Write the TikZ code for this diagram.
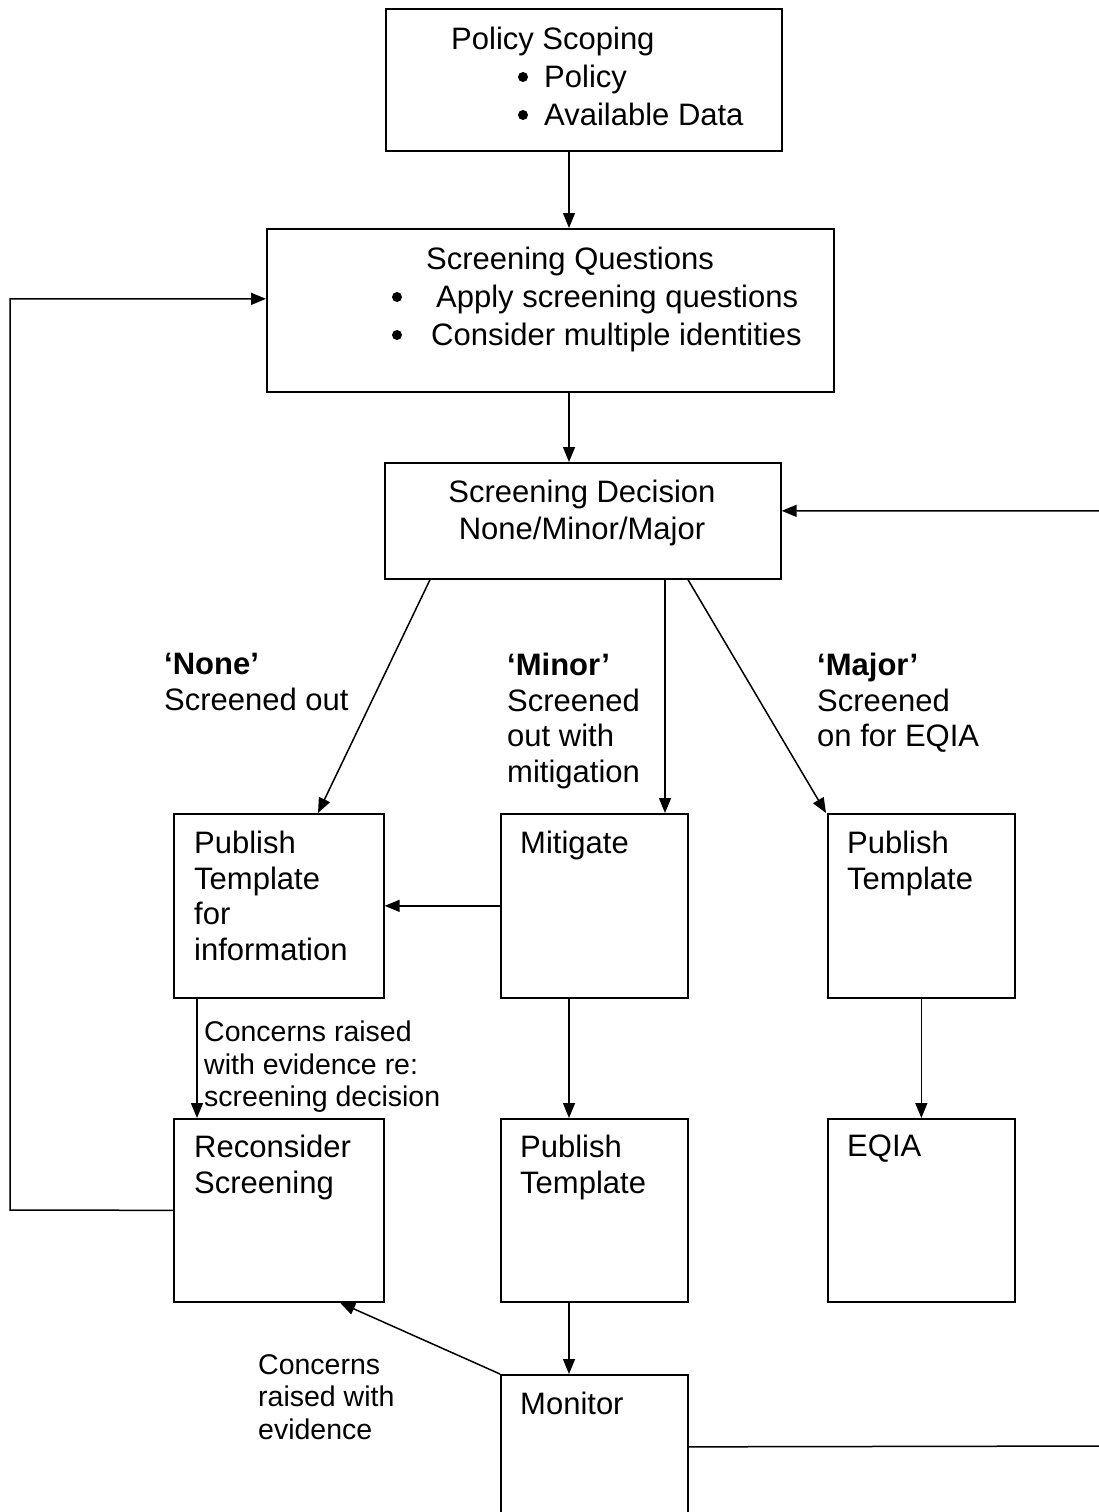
\documentclass[tikz,border=0pt]{standalone}
\usepackage{fontspec}
\setmainfont{Liberation Sans}
\usetikzlibrary{arrows.meta,calc}
\begin{document}
\begin{tikzpicture}[x=1pt,y=-1pt,
  box/.style={draw,line width=1.7pt,anchor=north west,inner sep=0pt},
  txt/.style={anchor=north west,inner sep=0pt,align=left,font=\fontsize{31}{35.5}\selectfont},
  ttl/.style={anchor=north,inner sep=0pt,align=center,font=\fontsize{31}{37}\selectfont},
  lst/.style={anchor=north west,inner sep=0pt,align=left,font=\fontsize{31}{38}\selectfont},
  small/.style={anchor=north west,inner sep=0pt,align=left,font=\fontsize{28.5}{32.5}\selectfont},
  bul/.style={fill=black},
  arr/.style={line width=1.5pt,-{Triangle[length=15pt,width=12pt]}},
  ln/.style={line width=1.5pt}]
\useasboundingbox (0,0) rectangle (1099,1512);
% boxes
\node[box,minimum width=396pt,minimum height=142pt] (PS) at (385,8) {};
\node[box,minimum width=567pt,minimum height=163pt] (SQ) at (266,228) {};
\node[box,minimum width=396pt,minimum height=116pt] (SD) at (384,462) {};
\node[box,minimum width=210pt,minimum height=184pt] (PTI) at (173,813) {};
\node[box,minimum width=187pt,minimum height=184pt] (MIT) at (500,813) {};
\node[box,minimum width=187pt,minimum height=184pt] (PTR) at (827,813) {};
\node[box,minimum width=210pt,minimum height=183pt] (REC) at (173,1118) {};
\node[box,minimum width=187pt,minimum height=183pt] (PTM) at (500,1118) {};
\node[box,minimum width=187pt,minimum height=183pt] (EQ) at (827,1118) {};
\node[box,minimum width=187pt,minimum height=144pt] (MON) at (500,1374) {};
% texts
\node[txt] (tPS) at (451,27) {Policy Scoping};
\node[lst] (lPS) at (544,65) {Policy\\Available Data};
\fill[bul] (523,77) circle (5pt) (523,115) circle (5pt);
\node[ttl] (tSQ) at (570,247) {Screening Questions};
\node[lst] (lSQ1) at (436,285) {Apply screening questions};
\node[lst] (lSQ2) at (431,323) {Consider multiple identities};
\fill[bul] (397,297) circle (5pt) (397,335) circle (5pt);
\node[ttl] (tSD) at (582,480) {Screening Decision\\None/Minor/Major};
\node[txt] (lNone) at (164,653) {\textbf{‘None’}\\Screened out};
\node[txt] (lMinor) at (507,653) {\textbf{‘Minor’}\\Screened\\out with\\mitigation};
\node[txt] (lMajor) at (817,653) {\textbf{‘Major’}\\Screened\\on for EQIA};
\node[txt] (tPTI) at (194,831) {Publish\\Template\\for\\information};
\node[txt] (tMIT) at (520,831) {Mitigate};
\node[txt] (tPTR) at (847,831) {Publish\\Template};
\node[small] (lC1) at (204,1021) {Concerns raised\\with evidence re:\\screening decision};
\node[txt] (tREC) at (194,1135) {Reconsider\\Screening};
\node[txt] (tPTM) at (520,1135) {Publish\\Template};
\node[txt] (tEQ) at (847,1135) {EQIA};
\node[txt] (tMON) at (520,1392) {Monitor};
\node[small] (lC2) at (258,1354) {Concerns\\raised with\\evidence};
% connectors
\draw[arr] ([xshift=184pt]PS.south west) -- ([xshift=303pt]SQ.north west);
\draw[arr] ([xshift=303pt]SQ.south west) -- ([xshift=185pt]SD.north west);
\draw[arr] ([xshift=46pt]SD.south west) -- ([xshift=145pt]PTI.north west);
\draw[arr] ([xshift=281pt]SD.south west) -- ([xshift=165pt]MIT.north west);
\draw[arr] ([xshift=304pt]SD.south west) -- ([xshift=-1pt]PTR.north west);
\draw[arr] (MIT.west) -- (PTI.east);
\draw[arr] ([xshift=24pt]PTI.south west) -- ([xshift=24pt]REC.north west);
\draw[arr] ([xshift=69pt]MIT.south west) -- ([xshift=69pt]PTM.north west);
\draw[arr] (PTR.south) -- (EQ.north);
\draw[arr] ([xshift=69pt]PTM.south west) -- ([xshift=69pt]MON.north west);
\draw[arr] (MON.north west) -- ([xshift=167pt]REC.south west);
\coordinate (L1) at (10,1210);
\draw[arr] (REC.west) -- (L1) |- ([yshift=11.5pt]SQ.west);
\coordinate (R1) at (1112,1446);
\draw[arr] (MON.east) -- (R1) |- ([yshift=10pt]SD.east);
\end{tikzpicture}
\end{document}
